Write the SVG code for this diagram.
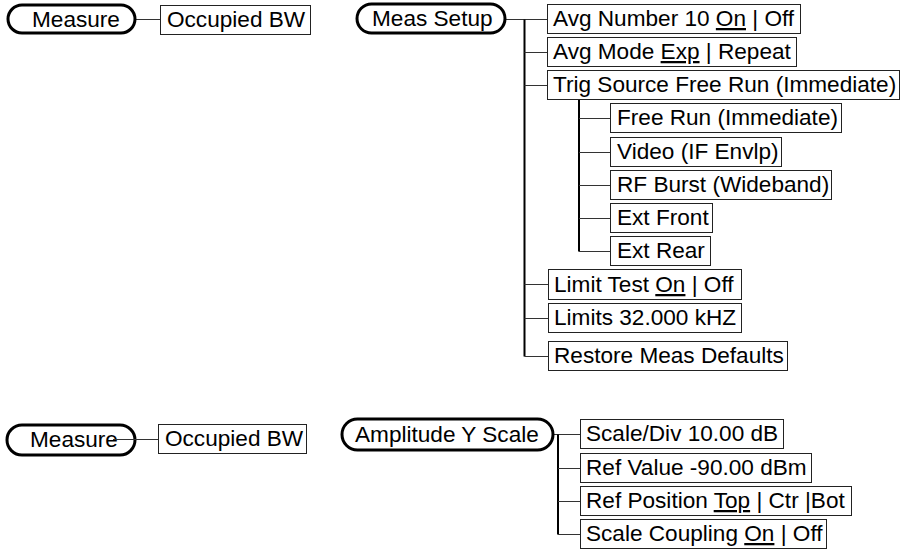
<svg xmlns="http://www.w3.org/2000/svg" width="907" height="553" viewBox="0 0 907 553">
<style>
text{font-family:"Liberation Sans",Arial,sans-serif;font-size:22.6px;fill:#000}
.pill{fill:#fff;stroke:#000;stroke-width:3}
.box{fill:#fff;stroke:#222;stroke-width:1}
.u{text-decoration:underline}
.trunk{stroke:#000;stroke-width:2;fill:none}
.br{stroke:#333;stroke-width:1;fill:none}
</style>
<rect width="907" height="553" fill="#fff"/>
<g id="connectors">
<path class="br" d="M135 19.5H160"/>
<path class="br" d="M505 19.5H547"/>
<path class="trunk" d="M524.5 19.5V356.5"/>
<path class="br" d="M524.5 52.5H547M524.5 85.5H547M524.5 284.5H548M524.5 318.5H548M524.5 356.5H548"/>
<path class="trunk" d="M579 100V251.5"/>
<path class="br" d="M579 118.5H610M579 152.5H610M579 185.5H610M579 218.5H610M579 251.5H610"/>
<path class="br" d="M553 434.5H580"/>
<path class="trunk" d="M558 434.5V534.5"/>
<path class="br" d="M558 468.5H580M558 501.5H580M558 534.5H580"/>
</g>
<g id="measure1"><rect class="pill" x="8" y="5" width="127" height="28" rx="14"/><text x="32" y="27">Measure</text></g>
<g id="occbw1"><rect class="box" x="160.5" y="5.5" width="150" height="29"/><text x="167" y="27">Occupied BW</text></g>
<g id="meassetup"><rect class="pill" x="357" y="4" width="148" height="29" rx="14.5"/><text x="372" y="26">Meas Setup</text></g>
<g id="avgnum"><rect class="box" x="547.5" y="4.5" width="253" height="29"/><text x="553" y="26">Avg Number 10 <tspan class="u">On</tspan> | Off</text></g>
<g id="avgmode"><rect class="box" x="547.5" y="37.5" width="249" height="29"/><text x="553" y="59">Avg Mode <tspan class="u">Exp</tspan> | Repeat</text></g>
<g id="trigsrc"><rect class="box" x="547.5" y="70.5" width="352" height="29"/><text x="553" y="92">Trig Source Free Run (Immediate)</text></g>
<g id="freerun"><rect class="box" x="610.5" y="103.5" width="231" height="29"/><text x="617" y="125">Free Run (Immediate)</text></g>
<g id="video"><rect class="box" x="610.5" y="137.5" width="171" height="29"/><text x="617" y="159">Video (IF Envlp)</text></g>
<g id="rfburst"><rect class="box" x="610.5" y="170.5" width="221" height="29"/><text x="617" y="192">RF Burst (Wideband)</text></g>
<g id="extfront"><rect class="box" x="610.5" y="203.5" width="102" height="29"/><text x="617" y="225">Ext Front</text></g>
<g id="extrear"><rect class="box" x="610.5" y="236.5" width="100" height="29"/><text x="617" y="258">Ext Rear</text></g>
<g id="limittest"><rect class="box" x="548.5" y="269.5" width="193" height="30"/><text x="554" y="292">Limit Test <tspan class="u">On</tspan> | Off</text></g>
<g id="limits"><rect class="box" x="548.5" y="303.5" width="193" height="29"/><text x="554" y="325">Limits 32.000 kHZ</text></g>
<g id="restore"><rect class="box" x="548.5" y="341.5" width="239" height="29"/><text x="554" y="363">Restore Meas Defaults</text></g>
<g id="measure2"><rect class="pill" x="7" y="425" width="128" height="30" rx="15"/><text x="30" y="447">Measure</text></g>
<path class="br" d="M113 439.5H158"/>
<g id="occbw2"><rect class="box" x="158.5" y="424.5" width="148" height="29"/><text x="165" y="446">Occupied BW</text></g>
<g id="ampy"><rect class="pill" x="342" y="419" width="211" height="31" rx="15.5"/><text x="355" y="442">Amplitude Y Scale</text></g>
<g id="scalediv"><rect class="box" x="580.5" y="419.5" width="203" height="29"/><text x="586" y="441">Scale/Div 10.00 dB</text></g>
<g id="refval"><rect class="box" x="580.5" y="453.5" width="231" height="29"/><text x="586" y="475">Ref Value -90.00 dBm</text></g>
<g id="refpos"><rect class="box" x="580.5" y="486.5" width="271" height="29"/><text x="586" y="508">Ref Position <tspan class="u">Top</tspan> | Ctr |Bot</text></g>
<g id="scalecoup"><rect class="box" x="580.5" y="519.5" width="246" height="29"/><text x="586" y="541">Scale Coupling <tspan class="u">On</tspan> | Off</text></g>
</svg>
